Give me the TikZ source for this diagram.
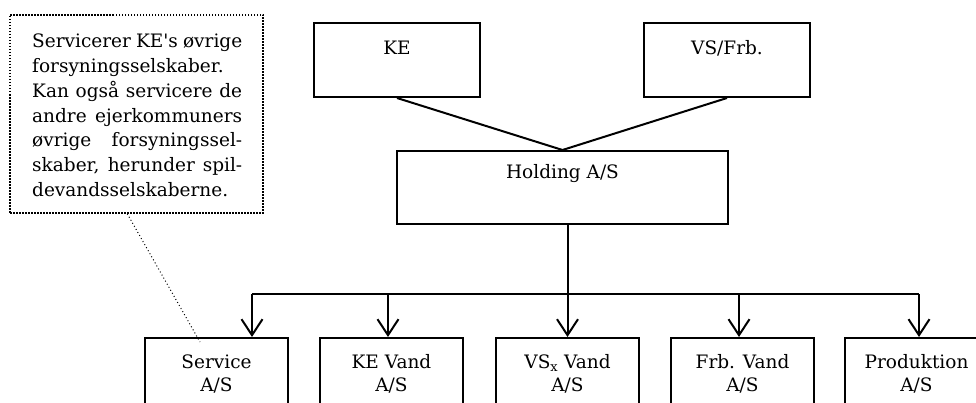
\documentclass[tikz,border=0pt]{standalone}
\usepackage{fontspec}
\setmainfont{DejaVu Serif}[Ligatures=TeXOff]
\usetikzlibrary{arrows.meta}
\tikzset{
  orgbox/.style={draw, line width=2pt, minimum width=#1, inner sep=0pt},
  lbl/.style={font=\fontsize{18.5}{23}\selectfont, align=center, inner sep=0pt},
  ctext/.style={font=\fontsize{18.5}{24.7}\selectfont, align=left, inner sep=0pt},
  conn/.style={line width=2pt},
  arr/.style={line width=2pt, -{Straight Barb[length=16pt,width=21pt,line width=2pt]}},
  calloutbox/.style={draw, line width=1.5pt, dash pattern=on 1.5pt off 1.5pt, inner sep=0pt},
  pointer/.style={line width=1pt, dash pattern=on 1pt off 2.5pt}
}
\newcommand{\jline}[1]{\makebox[210pt][s]{#1}}
\newcommand{\lline}[1]{\makebox[210pt][l]{#1}}
\begin{document}
\begin{tikzpicture}[x=1pt,y=-1pt]
\useasboundingbox (0,0) rectangle (976,403);
\clip (0,0) rectangle (976,403);
% top boxes
\node[orgbox=166pt, minimum height=74pt] (KE) at (397,60) {};
\node[orgbox=166pt, minimum height=74pt] (VS) at (727,60) {};
\node[orgbox=331pt, minimum height=73pt] (H) at (562.5,187.5) {};
\node[lbl] (KEl) at ([yshift=-26pt]KE.north) {KE};
\node[lbl] (VSl) at ([yshift=-26pt]VS.north) {VS/Frb.};
\node[lbl] (Hl) at ([yshift=-24pt]H.north) {Holding A/S};
% bottom boxes
\node[orgbox=143pt, minimum height=100pt] (S) at (216.5,388) {};
\node[orgbox=143pt, minimum height=100pt] (KV) at (391.5,388) {};
\node[orgbox=143pt, minimum height=100pt] (VV) at (567.5,388) {};
\node[orgbox=143pt, minimum height=100pt] (FV) at (742.5,388) {};
\node[orgbox=143pt, minimum height=100pt] (P) at (916.5,388) {};
\node[lbl] (Sl) at ([yshift=-37pt]S.north) {Service\\A/S};
\node[lbl] (KVl) at ([yshift=-37pt]KV.north) {KE Vand\\A/S};
\node[lbl] (VVl) at ([yshift=-37pt]VV.north) {VS\textsubscript{x} Vand\\A/S};
\node[lbl] (FVl) at ([yshift=-37pt]FV.north) {Frb. Vand\\A/S};
\node[lbl] (Pl) at ([yshift=-37pt]P.north) {Produktion\\A/S};
% callout
\node[calloutbox, minimum width=253pt, minimum height=198pt] (C) at (136.5,114) {};
\node[ctext, anchor=north west] (Ct) at (32,34)
  {\jline{Servicerer KE's øvrige}\\
   \lline{forsyningsselskaber.}\\
   \jline{Kan også servicere de}\\
   \jline{andre ejerkommuners}\\
   \jline{øvrige forsyningssel-}\\
   \jline{skaber, herunder spil-}\\
   \lline{devandsselskaberne.}};
\coordinate (Cend) at (200,342);
\draw[pointer] ([xshift=118pt]C.south west) -- (Cend);
% connectors top
\draw[conn] (KE.south) -- (H.north) -- (VS.south);
% bus
\coordinate (bus) at (0,294);
\coordinate (a1) at ([xshift=35.5pt]S.north);
\coordinate (a2) at ([xshift=-3.5pt]KV.north);
\coordinate (a3) at (VV.north);
\coordinate (a4) at ([xshift=-3.5pt]FV.north);
\coordinate (a5) at ([xshift=2.5pt]P.north);
\draw[conn] (bus -| a1) -- (bus -| a5);
\draw[arr] (H.south -| a3) -- (a3);
\draw[arr] (bus -| a1) -- (a1);
\draw[arr] (bus -| a2) -- (a2);
\draw[arr] (bus -| a4) -- (a4);
\draw[arr] (bus -| a5) -- (a5);
\end{tikzpicture}
\end{document}
